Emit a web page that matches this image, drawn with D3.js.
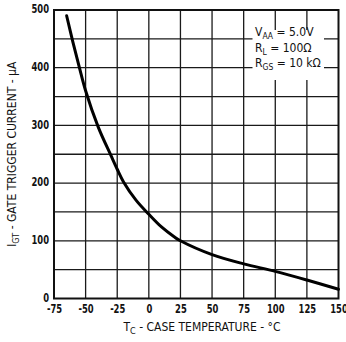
<!DOCTYPE html>
<html>
<head>
<meta charset="utf-8">
<script src="https://cdn.jsdelivr.net/npm/d3@7"></script>
<style>
  html, body { margin: 0; padding: 0; background: #fff; }
  svg { display: block; }
  text { font-family: "DejaVu Sans Condensed", "Liberation Sans Narrow", sans-serif; fill: #111; }
</style>
</head>
<body>
<svg id="chart" width="346" height="342"></svg>
<script>
// ---- data ----
const temperatures = [-65, -60, -55, -50, -40, -30, -25, -20, -10, 0, 10, 20, 25, 50, 75, 100, 125, 150];
const gateCurrent  = [490, 444, 401, 360, 297, 248, 224, 202, 170, 146, 124, 107, 100, 76, 60, 47, 32, 16];
const xTicks = [-75, -50, -25, 0, 25, 50, 75, 100, 125, 150];
const yTicks = [0, 100, 200, 300, 400, 500];
const yGrid  = [50, 100, 150, 200, 250, 300, 350, 400, 450];

const svg = d3.select("#chart");
const mLeft = 54, mRight = 338.5, mTop = 10, mBottom = 298.5;

const x = d3.scaleLinear().domain([-75, 150]).range([mLeft, mRight]);
const y = d3.scaleLinear().domain([0, 500]).range([mBottom, mTop]);

// grid
const grid = svg.append("g").attr("stroke", "#1a1a1a").attr("stroke-width", 1.3);
grid.selectAll("line.v").data(xTicks.slice(1, -1)).enter().append("line")
  .attr("x1", d => x(d)).attr("x2", d => x(d)).attr("y1", mTop).attr("y2", mBottom);
grid.selectAll("line.h").data(yGrid).enter().append("line")
  .attr("y1", d => y(d)).attr("y2", d => y(d)).attr("x1", mLeft).attr("x2", mRight);

// white box behind the conditions legend
svg.append("rect").attr("x", 252.5).attr("y", 30).attr("width", 71.5).attr("height", 50).attr("fill", "#fff");

// frame
svg.append("rect").attr("x", mLeft).attr("y", mTop).attr("width", mRight - mLeft).attr("height", mBottom - mTop)
  .attr("fill", "none").attr("stroke", "#111").attr("stroke-width", 2);

// curve
const line = d3.line().x((d, i) => x(temperatures[i])).y(d => y(d)).curve(d3.curveCatmullRom.alpha(0.5));
svg.append("path").datum(gateCurrent).attr("d", line)
  .attr("fill", "none").attr("stroke", "#000").attr("stroke-width", 3).attr("stroke-linecap", "round");

const fmt = d => String(d); // plain hyphen minus, as in the reference

// x tick labels
const xAxis = d3.axisBottom(x).tickValues(xTicks).tickSize(0).tickPadding(0).tickFormat(fmt);
const gx = svg.append("g").attr("transform", `translate(0,${mBottom + 5.5})`).call(xAxis);
gx.select(".domain").remove();
gx.selectAll("text").attr("font-size", 12).attr("font-weight", "bold").attr("dy", "0.71em")
  .attr("transform", "scale(0.78,1)")
  .style("font-family", '"DejaVu Sans Condensed", sans-serif').attr("fill", "#111");

// y tick labels
const yAxis = d3.axisLeft(y).tickValues(yTicks).tickSize(0).tickPadding(0).tickFormat(fmt);
const gy = svg.append("g").attr("transform", `translate(${mLeft - 5},-1)`).call(yAxis);
gy.select(".domain").remove();
gy.selectAll("text").attr("font-size", 12).attr("font-weight", "bold")
  .attr("transform", "scale(0.78,1)")
  .style("font-family", '"DejaVu Sans Condensed", sans-serif').attr("fill", "#111");

// x title
const xt = svg.append("text").attr("x", 202).attr("y", 331).attr("text-anchor", "middle").attr("font-size", 12);
xt.append("tspan").text("T");
xt.append("tspan").attr("font-size", 9).attr("dy", 3).text("C");
xt.append("tspan").attr("dy", -3).text(" - CASE TEMPERATURE - °C");

// y title
const yt = svg.append("text").attr("transform", `translate(16,${(mTop + mBottom) / 2}) rotate(-90)`)
  .attr("text-anchor", "middle").attr("font-size", 12);
yt.append("tspan").text("I");
yt.append("tspan").attr("font-size", 9).attr("dy", 3).text("GT");
yt.append("tspan").attr("dy", -3).text(" - GATE TRIGGER CURRENT - µA");

// conditions legend
function cond(yPos, main, sub, rest) {
  const t = svg.append("text").attr("x", 255).attr("y", yPos).attr("font-size", 12);
  t.append("tspan").text(main);
  t.append("tspan").attr("font-size", 8.5).attr("dy", 3).text(sub);
  t.append("tspan").attr("dy", -3).text(rest);
}
cond(36, "V", "AA", " = 5.0V");
cond(51.5, "R", "L", " = 100Ω");
cond(67, "R", "GS", " = 10 kΩ");
</script>
</body>
</html>
